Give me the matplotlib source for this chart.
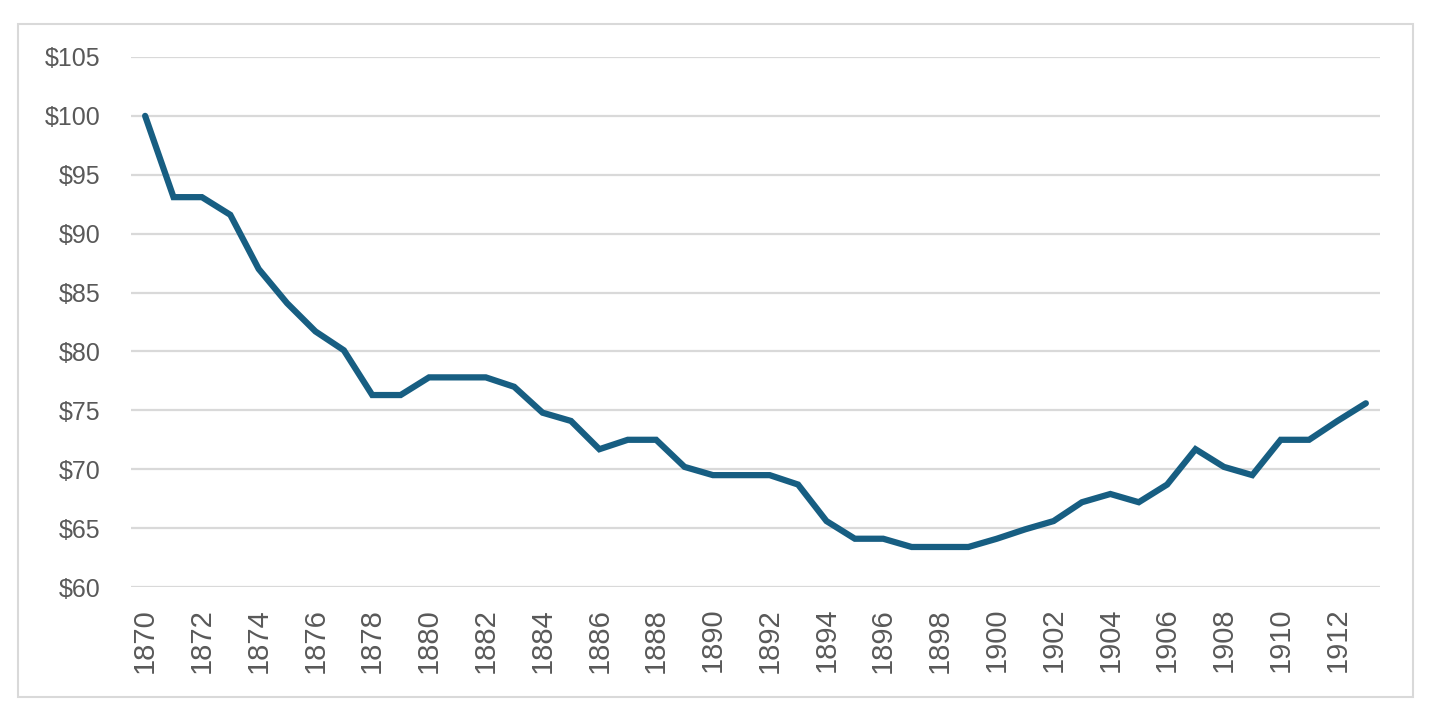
"""
Price index 1870-1913 (1870 = $100), recreated as a simple line chart.
"""

import matplotlib

matplotlib.use("Agg")
import matplotlib.pyplot as plt
from matplotlib.patches import Rectangle
from matplotlib.ticker import FuncFormatter, MultipleLocator


# -------------------------------------------------------------------
# Data
# -------------------------------------------------------------------
years = list(range(1870, 1914))
values = [
    100.0, 93.1, 93.1, 91.6, 87.0, 84.1, 81.7, 80.1, 76.3, 76.3,
    77.8, 77.8, 77.8, 77.0, 74.8, 74.1, 71.7, 72.5, 72.5, 70.2,
    69.5, 69.5, 69.5, 68.7, 65.6, 64.1, 64.1, 63.4, 63.4, 63.4,
    64.1, 64.9, 65.6, 67.2, 67.9, 67.2, 68.7, 71.7, 70.2, 69.5,
    72.5, 72.5, 74.1, 75.6,
]
tick_years = years[::2]

LINE_COLOR = "#175E82"
GRID_COLOR = "#D9D9D9"
TEXT_COLOR = "#595959"

plt.rcParams["font.family"] = ["Liberation Sans", "DejaVu Sans"]


# -------------------------------------------------------------------
# Plot
# -------------------------------------------------------------------
fig = plt.figure(figsize=(14.31, 7.25), dpi=100)
ax = fig.add_axes([0.0915, 0.1903, 0.8729, 0.7311])

ax.plot(years, values, color=LINE_COLOR, linewidth=4.5,
        solid_capstyle="round", solid_joinstyle="miter", zorder=3)

ax.set_xlim(1869.5, 1913.5)
ax.set_ylim(60, 105)
ax.yaxis.set_major_locator(MultipleLocator(5))
ax.yaxis.set_major_formatter(FuncFormatter(lambda v, _: f"${v:.0f}"))
ax.set_xticks(tick_years)
ax.set_xticklabels([str(y) for y in tick_years], rotation=90)

ax.grid(axis="y", color=GRID_COLOR, linewidth=1.6, zorder=0)
ax.set_axisbelow(True)
for side in ["top", "right", "left", "bottom"]:
    ax.spines[side].set_visible(False)

ax.tick_params(axis="y", length=0, pad=22, labelsize=18, labelcolor=TEXT_COLOR)
ax.tick_params(axis="x", length=0, pad=15, labelsize=21, labelcolor=TEXT_COLOR)

# chart frame
fig.patches.append(Rectangle((0.0126, 0.0386), 0.9748, 0.9283,
                             transform=fig.transFigure, fill=False,
                             edgecolor=GRID_COLOR, linewidth=1.5))

fig.savefig("out.png", dpi=100, facecolor="white")
